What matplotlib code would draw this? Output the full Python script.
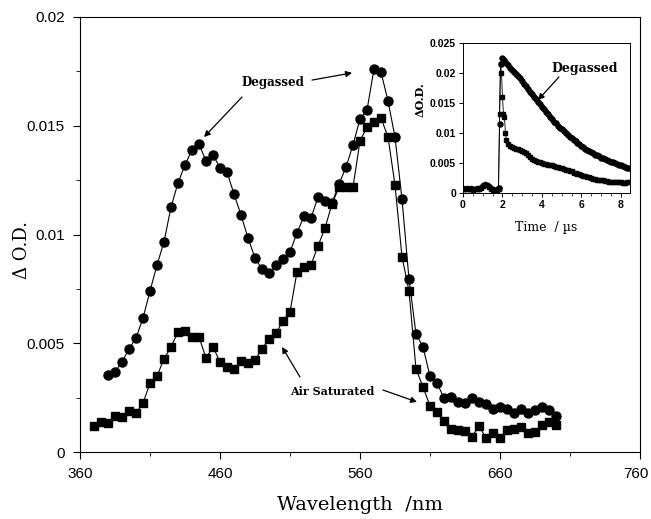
import matplotlib.pyplot as plt
import matplotlib.transforms as mtransforms
from matplotlib.ticker import MultipleLocator, FixedLocator, FuncFormatter

# main spectrum (nm, delta OD)
wl_degassed = list(range(380, 705, 5))
od_degassed = [0.00354, 0.00368, 0.00414, 0.00474, 0.00524, 0.00616, 0.00740, 0.00860,
               0.00966, 0.01126, 0.01237, 0.01320, 0.01389, 0.01416, 0.01338, 0.01366,
               0.01306, 0.01287, 0.01186, 0.01090, 0.00984, 0.00892, 0.00841, 0.00823,
               0.00860, 0.00887, 0.00920, 0.01007, 0.01085, 0.01076, 0.01172, 0.01154,
               0.01145, 0.01232, 0.01310, 0.01412, 0.01531, 0.01572, 0.01761, 0.01747,
               0.01614, 0.01448, 0.01163, 0.00795, 0.00543, 0.00483, 0.00349, 0.00317,
               0.00248, 0.00253, 0.00230, 0.00225, 0.00248, 0.00230, 0.00221, 0.00198,
               0.00207, 0.00198, 0.00179, 0.00198, 0.00179, 0.00193, 0.00207, 0.00193,
               0.00166]

wl_air = list(range(370, 705, 5))
od_air = [0.00120, 0.00138, 0.00133, 0.00166, 0.00161, 0.00189, 0.00179, 0.00225,
          0.00317, 0.00349, 0.00428, 0.00483, 0.00552, 0.00556, 0.00529, 0.00529,
          0.00432, 0.00483, 0.00414, 0.00391, 0.00382, 0.00418, 0.00409, 0.00423,
          0.00474, 0.00520, 0.00547, 0.00602, 0.00644, 0.00828, 0.00851, 0.00860,
          0.00947, 0.01030, 0.01140, 0.01218, 0.01218, 0.01218, 0.01430, 0.01494,
          0.01517, 0.01536, 0.01448, 0.01228, 0.00897, 0.00740, 0.00382, 0.00299,
          0.00212, 0.00184, 0.00143, 0.00106, 0.00101, 0.00097, 0.00069, 0.00120,
          0.00064, 0.00087, 0.00064, 0.00101, 0.00106, 0.00115, 0.00087, 0.00092,
          0.00124, 0.00138, 0.00124]

wl_ticks = [360, 460, 560, 660, 760]

# inset kinetics (us, delta OD)
t_base = [0.0, 0.1, 0.2, 0.3, 0.4, 0.5, 0.6, 0.7, 0.8, 0.9, 1.0, 1.1, 1.2, 1.3,
          1.4, 1.5, 1.6, 1.7, 1.8]
od_base = [0.0008, 0.0007, 0.0008, 0.0007, 0.0008, 0.0006, 0.0007, 0.0008, 0.0007,
           0.0010, 0.0013, 0.0015, 0.0014, 0.0011, 0.0008, 0.0006, 0.0005, 0.0006,
           0.0008]

t_deg = [1.85, 1.9, 2.0, 2.1, 2.2, 2.3, 2.4, 2.5, 2.6, 2.7, 2.8, 2.9, 3.0, 3.1, 3.2,
         3.3, 3.4, 3.5, 3.6, 3.7, 3.8, 3.9, 4.0, 4.1, 4.2, 4.3, 4.4, 4.5, 4.6, 4.7,
         4.8, 4.9, 5.0, 5.1, 5.2, 5.3, 5.4, 5.5, 5.6, 5.7, 5.8, 5.9, 6.0, 6.1, 6.2,
         6.3, 6.4, 6.5, 6.6, 6.7, 6.8, 6.9, 7.0, 7.1, 7.2, 7.3, 7.4, 7.5, 7.6, 7.7,
         7.8, 7.9, 8.0, 8.1, 8.2, 8.3, 8.4]
od_deg = [0.0115, 0.0215, 0.0225, 0.0221, 0.0217, 0.0213, 0.0209, 0.0205, 0.0202,
          0.0198, 0.0195, 0.0191, 0.0187, 0.0182, 0.0178, 0.0173, 0.0169, 0.0165,
          0.0160, 0.0156, 0.0152, 0.0148, 0.0144, 0.0140, 0.0135, 0.0131, 0.0127,
          0.0123, 0.0119, 0.0116, 0.0112, 0.0109, 0.0106, 0.0103, 0.0100, 0.0097,
          0.0093, 0.0091, 0.0088, 0.0086, 0.0083, 0.0081, 0.0078, 0.0076, 0.0074,
          0.0072, 0.0070, 0.0068, 0.0066, 0.0064, 0.0063, 0.0061, 0.0059, 0.0058,
          0.0056, 0.0055, 0.0053, 0.0052, 0.0051, 0.0050, 0.0049, 0.0047, 0.0046,
          0.0045, 0.0043, 0.0042, 0.0041]

t_airk = [1.85, 1.9, 1.95, 2.0, 2.05, 2.1, 2.15, 2.2, 2.3, 2.4, 2.5, 2.6, 2.7, 2.8,
          2.9, 3.0, 3.1, 3.2, 3.3, 3.4, 3.5, 3.6, 3.7, 3.8, 3.9, 4.0, 4.1, 4.2, 4.3,
          4.4, 4.5, 4.6, 4.7, 4.8, 4.9, 5.0, 5.1, 5.2, 5.3, 5.4, 5.5, 5.6, 5.7, 5.8,
          5.9, 6.0, 6.1, 6.2, 6.3, 6.4, 6.5, 6.6, 6.7, 6.8, 6.9, 7.0, 7.1, 7.2, 7.3,
          7.4, 7.5, 7.6, 7.7, 7.8, 7.9, 8.0, 8.1, 8.2, 8.3, 8.4]
od_airk = [0.0132, 0.0215, 0.0200, 0.0160, 0.0132, 0.0126, 0.0100, 0.0088, 0.0081,
           0.0078, 0.0076, 0.0075, 0.0074, 0.0073, 0.0072, 0.0070, 0.0068, 0.0066,
           0.0063, 0.0060, 0.0057, 0.0055, 0.0053, 0.0052, 0.0051, 0.0050, 0.0049,
           0.0048, 0.0047, 0.0047, 0.0046, 0.0045, 0.0044, 0.0043, 0.0042, 0.0041,
           0.0040, 0.0039, 0.0038, 0.0037, 0.0036, 0.0034, 0.0033, 0.0032, 0.0031,
           0.0030, 0.0029, 0.0028, 0.0027, 0.0026, 0.0025, 0.0024, 0.0023, 0.0022,
           0.0022, 0.0021, 0.0021, 0.0020, 0.0020, 0.0019, 0.0019, 0.0019, 0.0018,
           0.0018, 0.0018, 0.0018, 0.0017, 0.0017, 0.0018, 0.0018]

serif = "DejaVu Serif"
tickfont = "Liberation Sans"


def od_fmt(v, pos):
    return "0" if abs(v) < 1e-9 else ("%g" % round(v, 4))


fig = plt.figure(figsize=(6.51, 5.19), dpi=100)
ax = fig.add_axes([80 / 651, 1 - 452 / 519, 560 / 651, 435 / 519])

ax.plot(wl_degassed, od_degassed, "-o", color="black", lw=0.8, ms=6.5)
ax.plot(wl_air, od_air, "-s", color="black", lw=0.8, ms=5.8)

ax.set_xlim(360, 760)
ax.set_ylim(0, 0.02)
ax.xaxis.set_major_locator(FixedLocator(wl_ticks))
ax.xaxis.set_minor_locator(FixedLocator([t + 50 for t in wl_ticks[:-1]]))
ax.yaxis.set_major_locator(MultipleLocator(0.005))
ax.yaxis.set_minor_locator(MultipleLocator(0.0025))
ax.yaxis.set_major_formatter(FuncFormatter(od_fmt))
ax.tick_params(which="major", direction="out", length=5, width=0.8, labelsize=11, pad=6)
ax.tick_params(which="minor", direction="out", length=3, width=0.6)
for lab in ax.get_xticklabels() + ax.get_yticklabels():
    lab.set_fontfamily(tickfont)
# keep the last wavelength label inside the figure
last = ax.get_xticklabels()[-1]
last.set_transform(last.get_transform() +
                   mtransforms.ScaledTranslation(-4 / 100, 0, fig.dpi_scale_trans))
for s in ax.spines.values():
    s.set_linewidth(0.8)

ax.set_xlabel("Wavelength  /nm", fontfamily=serif, fontsize=14, va="center")
ax.xaxis.set_label_coords(0.5, -(505 - 452) / 435)
ax.set_ylabel("Δ O.D.", fontfamily=serif, fontsize=13, va="center")
ax.yaxis.set_label_coords((22 - 80) / 560, (452 - 250) / 435)

arrow = dict(arrowstyle="-|>", color="black", lw=0.9, mutation_scale=9, shrinkA=0, shrinkB=0)
ax.text(498, 0.01697, "Degassed", fontfamily=serif, fontsize=8.5, fontweight="bold",
        ha="center", va="center")
ax.annotate("", xy=(448.6, 0.01448), xytext=(475.7, 0.01632), arrowprops=arrow)
ax.annotate("", xy=(554.3, 0.01743), xytext=(525.7, 0.01710), arrowprops=arrow)
ax.text(540, 0.00276, "Air Saturated", fontfamily=serif, fontsize=8, fontweight="bold",
        ha="center", va="center")
ax.annotate("", xy=(504.3, 0.00483), xytext=(517.1, 0.00345), arrowprops=arrow)
ax.annotate("", xy=(600.7, 0.0023), xytext=(576.4, 0.00285), arrowprops=arrow)

# inset
ins = fig.add_axes([463 / 651, 1 - 193 / 519, 167 / 651, 150 / 519])
ins.plot(t_base, od_base, "-o", color="black", lw=0.6, ms=3)
ins.plot(t_base, [v - 0.0001 for v in od_base], "-s", color="black", lw=0.6, ms=2.8)
ins.plot([t_base[-1]] + t_deg, [od_base[-1]] + od_deg, "-o", color="black", lw=0.6, ms=3.6)
ins.plot([t_base[-1]] + t_airk, [od_base[-1]] + od_airk, "-s", color="black", lw=0.6, ms=3.2)
ins.set_xlim(0, 8.46)
ins.set_ylim(0, 0.025)
ins.xaxis.set_major_locator(MultipleLocator(2))
ins.xaxis.set_minor_locator(MultipleLocator(0.5))
ins.yaxis.set_major_locator(MultipleLocator(0.005))
ins.yaxis.set_major_formatter(FuncFormatter(od_fmt))
ins.tick_params(which="major", direction="out", length=3, width=0.7, labelsize=7.5, pad=2)
ins.tick_params(which="minor", direction="out", length=2, width=0.5)
for lab in ins.get_xticklabels() + ins.get_yticklabels():
    lab.set_fontfamily(tickfont)
    lab.set_fontweight("bold")
for s in ins.spines.values():
    s.set_linewidth(0.7)
ins.set_xlabel("Time  / µs", fontfamily=serif, fontsize=9, va="center")
ins.xaxis.set_label_coords(0.5, -(227 - 193) / 150)
ins.set_ylabel("ΔO.D.", fontfamily=serif, fontsize=8, fontweight="bold", va="center")
ins.yaxis.set_label_coords((420 - 463) / 167, 0.62)
ins.text(6.18, 0.0208, "Degassed", fontfamily=serif, fontsize=9, fontweight="bold",
         ha="center", va="center")
ins.annotate("", xy=(3.8, 0.0155), xytext=(4.86, 0.01933), arrowprops=arrow)

fig.savefig("out.png", dpi=100)
